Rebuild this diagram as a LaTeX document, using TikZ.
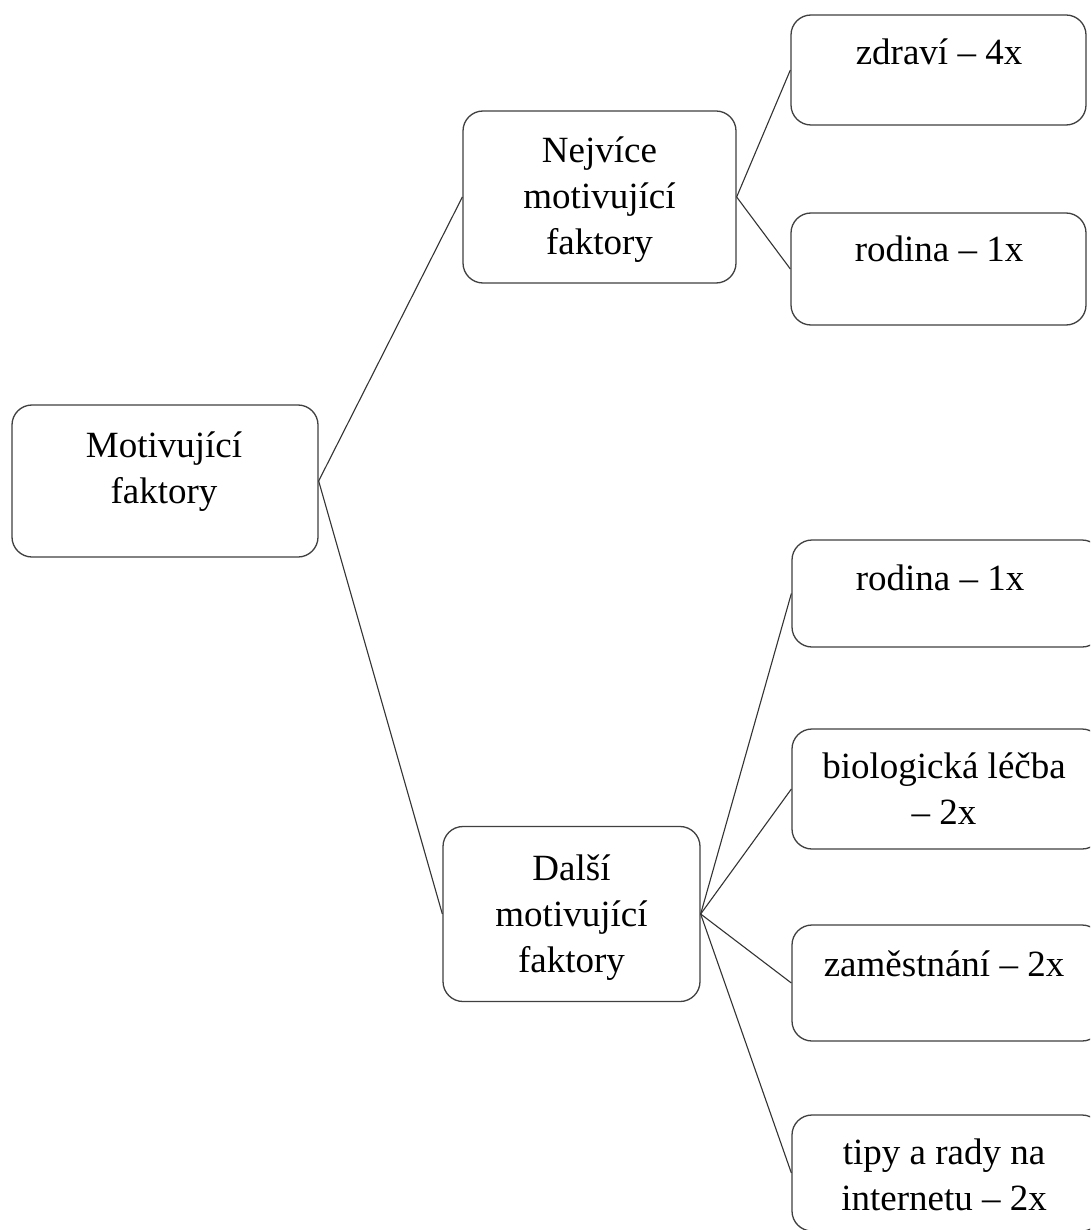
\documentclass[tikz,border=0pt]{standalone}
\usepackage{fontspec}
\setmainfont{Liberation Serif}
\begin{document}
\begin{tikzpicture}[x=1pt,y=-1pt,
  box/.style={draw=black!75, line width=1.3pt, rounded corners=20pt, fill=white, inner sep=0pt},
  conn/.style={draw=black!80, line width=1.1pt},
  lbl/.style={anchor=base, inner sep=0pt, font=\fontsize{37}{46}\selectfont}]
\useasboundingbox (0,0) rectangle (1090,1230);
\clip (0,0) rectangle (1090,1230);
\fill[white] (0,0) rectangle (1090,1230);
% boxes
\node[box, minimum width=306pt, minimum height=152pt] (root) at (165,481) {};
\node[box, minimum width=273pt, minimum height=172pt] (nej) at (599.5,197) {};
\node[box, minimum width=295pt, minimum height=110pt] (zd) at (938.5,70) {};
\node[box, minimum width=295pt, minimum height=112pt] (rod1) at (938.5,269) {};
\node[box, minimum width=257pt, minimum height=175pt] (dal) at (571.5,914) {};
\node[box, minimum width=310pt, minimum height=107pt] (rod2) at (947,593.5) {};
\node[box, minimum width=310pt, minimum height=120pt] (bio) at (947,789) {};
\node[box, minimum width=310pt, minimum height=116pt] (zam) at (947,983) {};
\node[box, minimum width=310pt, minimum height=116pt] (tip) at (947,1173) {};
% connectors
\draw[conn] (root.east) -- (nej.west);
\draw[conn] (root.east) -- (dal.west);
\draw[conn] (nej.east) -- (zd.west);
\draw[conn] (nej.east) -- (rod1.west);
\draw[conn] (dal.east) -- (rod2.west);
\draw[conn] (dal.east) -- (bio.west);
\draw[conn] (dal.east) -- (zam.west);
\draw[conn] (dal.east) -- (tip.west);
% labels
\node[lbl] (t-root) at (164,457) {\begin{tabular}[t]{@{}c@{}}Motivující\\faktory\end{tabular}};
\node[lbl] (t-nej) at (599.5,163) {\begin{tabular}[t]{@{}c@{}}Nejvíce\\motivující\\faktory\end{tabular}};
\node[lbl] (t-zd) at (939,65) {zdraví – 4x};
\node[lbl] (t-rod1) at (939,262) {rodina – 1x};
\node[lbl] (t-dal) at (571.5,880) {\begin{tabular}[t]{@{}c@{}}Další\\motivující\\faktory\end{tabular}};
\node[lbl] (t-rod2) at (940,590) {rodina – 1x};
\node[lbl] (t-bio) at (944,778) {\begin{tabular}[t]{@{}c@{}}biologická léčba\\– 2x\end{tabular}};
\node[lbl] (t-zam) at (944,976) {zaměstnání – 2x};
\node[lbl] (t-tip) at (944,1164) {\begin{tabular}[t]{@{}c@{}}tipy a rady na\\internetu – 2x\end{tabular}};
\end{tikzpicture}
\end{document}
